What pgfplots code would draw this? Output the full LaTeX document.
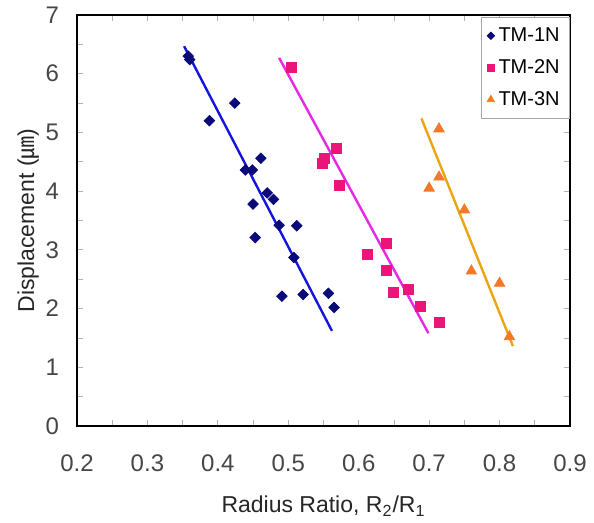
\documentclass[border=0pt]{standalone}
\usepackage{fontspec}
\setmainfont{Liberation Sans}
\newfontfamily\cjk{Noto Sans CJK SC}
\usepackage{pgfplots}
\pgfplotsset{compat=1.18}
\definecolor{navy1}{RGB}{10,10,120}
\definecolor{line1}{RGB}{20,20,220}
\definecolor{pink2}{RGB}{235,20,120}
\definecolor{line2}{RGB}{230,40,230}
\definecolor{orng3}{RGB}{245,120,40}
\definecolor{line3}{RGB}{235,165,20}
\definecolor{ticktxt}{RGB}{70,70,70}

\begin{document}
\begin{tikzpicture}
\begin{axis}[scale only axis, width=246.5pt, height=205.5pt,
  xmin=0.2, xmax=0.9, ymin=0, ymax=7,
  xtick={0.2,0.3,...,0.9}, ytick={0,1,...,7},
  minor x tick num=1, minor y tick num=1,
  tick align=inside, major tick length=3pt, minor tick length=3pt,
  tick style={gray!60, thin},
  axis line style={black, line width=1pt},
  x tick label style={/pgf/number format/.cd, fixed, fixed zerofill, precision=1, assume math mode=true},
  y tick label style={/pgf/number format/assume math mode=true},
  tick label style={font=\fontsize{12}{12}\selectfont, text=ticktxt},
  xticklabel shift=11pt, yticklabel shift=5.5pt,
  label style={font=\fontsize{11.5}{12}\selectfont, text=black!85},
  xlabel={Radius Ratio, R\textsubscript{2}/R\textsubscript{1}},
  ylabel={Displacement ({\cjk ㎛})},
  xlabel style={yshift=-5pt},
  ylabel style={yshift=-3.5pt},
  legend style={at={(1,1)}, anchor=north east, draw=gray!70, thin,
    font=\fontsize{10}{10}\selectfont, row sep=3.5pt, inner sep=3pt,
    yshift=-1pt},
  legend image post style={scale=0.7},
  legend cell align=left,
  clip=false]
\addplot[only marks, mark=square*, mark options={rotate=45}, mark size=1.85pt, navy1] coordinates {
 (0.358,6.30) (0.360,6.24) (0.388,5.20) (0.424,5.50) (0.461,4.56) (0.439,4.36)
 (0.449,4.36) (0.470,3.97) (0.479,3.86) (0.450,3.78) (0.487,3.42) (0.512,3.41)
 (0.453,3.21) (0.508,2.87) (0.491,2.21) (0.521,2.24) (0.557,2.26) (0.565,2.02)};
\addlegendentry{TM-1N}
\addplot[only marks, mark=square*, mark size=2.5pt, pink2] coordinates {
 (0.505,6.11) (0.568,4.72) (0.551,4.56) (0.549,4.48) (0.572,4.09) (0.640,3.11)
 (0.612,2.92) (0.640,2.65) (0.649,2.27) (0.670,2.33) (0.687,2.04) (0.714,1.76)};
\addlegendentry{TM-2N}
\addplot[only marks, mark=triangle*, mark size=3pt, orng3] coordinates {
 (0.714,5.06) (0.714,4.24) (0.700,4.05) (0.750,3.68) (0.760,2.64) (0.800,2.43)
 (0.814,1.52)};
\addlegendentry{TM-3N}
\addplot[line1, line width=1.2pt, forget plot] coordinates {(0.352,6.47) (0.562,1.62)};
\addplot[line2, line width=1.2pt, forget plot] coordinates {(0.487,6.27) (0.699,1.58)};
\addplot[line3, line width=1.2pt, forget plot] coordinates {(0.689,5.24) (0.819,1.36)};
\end{axis}
\path ([xshift=-38.5pt,yshift=-48pt]current axis.south west) rectangle ([xshift=12pt,yshift=7.5pt]current axis.north east);
\end{tikzpicture}
\end{document}
